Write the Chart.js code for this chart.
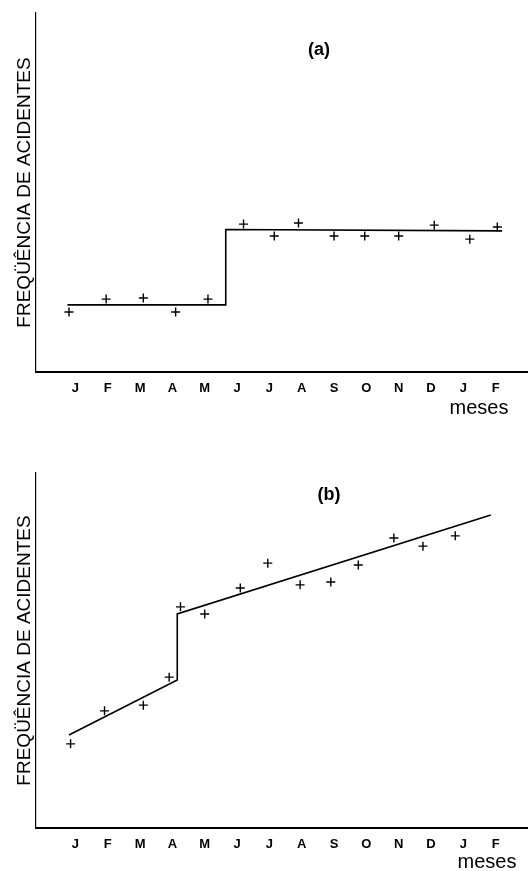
<!DOCTYPE html>
<html lang="pt">
<head>
    <meta charset="UTF-8">
    <title>Frequência de acidentes</title>
    <script src="https://cdn.jsdelivr.net/npm/chart.js"></script>
    <style>
        body { margin: 0; background: #fff; }
        .box { position: absolute; left: 0; width: 528px; }
        #boxA { top: 0; height: 420px; }
        #boxB { top: 440px; height: 431px; }
    </style>
</head>
<body>
    <div class="box" id="boxA"><canvas id="chartA"></canvas></div>
    <div class="box" id="boxB"><canvas id="chartB"></canvas></div>

    <script>
        // month tick labels (position 0..13 on the x axis)
        const months = ['J', 'F', 'M', 'A', 'M', 'J', 'J', 'A', 'S', 'O', 'N', 'D', 'J', 'F'];

        // (a) observed points, x in month units
        const pointsAX = [-0.2, 0.95, 2.1, 3.1, 4.1, 5.2, 6.15, 6.9, 8.0, 8.95, 10.0, 11.1, 12.2, 13.05];
        const pointsAY = [16.7, 20.3, 20.6, 16.7, 20.3, 41.2, 37.9, 41.5, 37.9, 37.9, 37.9, 40.9, 37.0, 40.4];
        // (a) fitted step line
        const lineAX = [-0.25, 4.65, 4.65, 13.2];
        const lineAY = [18.7, 18.7, 39.7, 39.3];

        // (b) observed points
        const pointsBX = [-0.15, 0.9, 2.1, 2.9, 3.25, 4.0, 5.1, 5.95, 6.95, 7.9, 8.75, 9.85, 10.75, 11.75];
        const pointsBY = [23.7, 33.0, 34.6, 42.5, 62.3, 60.3, 67.6, 74.6, 68.5, 69.3, 74.1, 81.7, 79.4, 82.3];
        // (b) fitted trend with step
        const lineBX = [-0.2, 3.15, 3.15, 12.85];
        const lineBY = [26.2, 41.7, 60.3, 88.2];

        const FONT = "'Liberation Sans', Arial, sans-serif";

        function toXY(xs, ys) {
            return xs.map((x, i) => ({ x: x, y: ys[i] }));
        }

        // draws the panel letter and the "meses" label
        const panelText = {
            id: 'panelText',
            afterDraw(chart, args, opts) {
                const ctx = chart.ctx;
                const area = chart.chartArea;
                ctx.save();
                ctx.fillStyle = '#000';
                ctx.textAlign = 'center';
                ctx.textBaseline = 'middle';
                ctx.font = 'bold 18px ' + FONT;
                ctx.fillText(opts.letter, opts.letterX, area.top + opts.letterDy);
                ctx.font = '20px ' + FONT;
                ctx.fillText('meses', opts.mesesX, area.bottom + opts.mesesDy);
                ctx.restore();
            }
        };

        function makeChart(id, pts, line, cfg) {
            const ctx = document.getElementById(id).getContext('2d');
            return new Chart(ctx, {
                type: 'scatter',
                data: {
                    datasets: [
                        {
                            data: line,
                            showLine: true,
                            borderColor: '#000',
                            borderWidth: 1.6,
                            pointRadius: 0,
                            tension: 0
                        },
                        {
                            data: pts,
                            pointStyle: 'cross',
                            pointRadius: 4.5,
                            borderColor: '#000',
                            borderWidth: 1.4
                        }
                    ]
                },
                options: {
                    responsive: true,
                    maintainAspectRatio: false,
                    animation: false,
                    layout: {
                        autoPadding: false,
                        padding: { top: cfg.top, left: 0, right: 0, bottom: 0 }
                    },
                    plugins: {
                        legend: { display: false },
                        tooltip: { enabled: false },
                        panelText: cfg.text
                    },
                    scales: {
                        x: {
                            type: 'linear',
                            min: -1.22,
                            max: 14,
                            grid: { display: false, drawTicks: false },
                            border: { display: true, color: '#000', width: 2 },
                            afterBuildTicks: s => { s.ticks = months.map((m, i) => ({ value: i })); },
                            afterFit: s => {
                                s.height = cfg.xHeight;
                                s.paddingLeft = 0;
                                s.paddingRight = 0;
                            },
                            ticks: {
                                color: '#000',
                                padding: 9,
                                maxRotation: 0,
                                autoSkip: false,
                                font: { family: FONT, size: 13, weight: 'bold' },
                                callback: (v, i) => months[i]
                            }
                        },
                        y: {
                            min: 0,
                            max: 100,
                            grid: { display: false, drawTicks: false },
                            border: { display: true, color: '#000', width: 1.2 },
                            ticks: { display: false },
                            afterFit: s => {
                                s.width = 36;
                                s.paddingTop = 0;
                                s.paddingBottom = 0;
                            },
                            title: {
                                display: true,
                                text: 'FREQÜÊNCIA DE ACIDENTES',
                                color: '#000',
                                padding: { top: 13, bottom: 0 },
                                font: { family: FONT, size: 19 }
                            }
                        }
                    }
                },
                plugins: [panelText]
            });
        }

        makeChart('chartA', toXY(pointsAX, pointsAY), toXY(lineAX, lineAY), {
            top: 13, xHeight: 48,
            text: { letter: '(a)', letterX: 319, letterDy: 37, mesesX: 479, mesesDy: 36 }
        });
        makeChart('chartB', toXY(pointsBX, pointsBY), toXY(lineBX, lineBY), {
            top: 33, xHeight: 43,
            text: { letter: '(b)', letterX: 329, letterDy: 22, mesesX: 487, mesesDy: 34 }
        });
    </script>
</body>
</html>
